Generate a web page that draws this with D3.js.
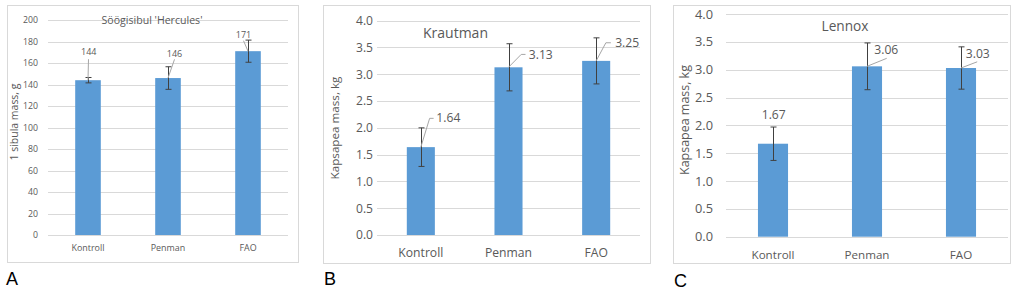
<!DOCTYPE html>
<html>
<head>
<meta charset="utf-8">
<script src="https://cdn.jsdelivr.net/npm/d3@7"></script>
<style>
  html, body { margin: 0; padding: 0; background: #fff; }
  svg { display: block; }
</style>
</head>
<body>
<svg id="chart" width="1024" height="291"></svg>
<script>
// ---------------- DATA ----------------
const categories = ["Kontroll", "Penman", "FAO"];

const herculesMass = [144, 146, 171];
const herculesErr  = [2.5, 10.5, 10.3];

const krautmanMass = [1.64, 3.13, 3.25];
const krautmanErr  = [0.36, 0.44, 0.43];

const lennoxMass = [1.67, 3.06, 3.03];
const lennoxErr  = [0.30, 0.42, 0.38];

const ticksA  = [0, 20, 40, 60, 80, 100, 120, 140, 160, 180, 200];
const ticksBC = [0, 0.5, 1.0, 1.5, 2.0, 2.5, 3.0, 3.5, 4.0];

const titles = ["Söögisibul 'Hercules'", "Krautman", "Lennox"];
const yTitles = ["1 sibula mass, g", "Kapsapea mass, kg", "Kapsapea mass, kg"];
const panelLetters = ["A", "B", "C"];

// ---------------- LAYOUT ----------------
const FONT = "'Open Sans', Lato, sans-serif";
const TXT = "#595959";
const GRID = "#d9d9d9";
const BAR = "#5b9bd5";

// widths (px) that the reference texts occupy; font sizes are fitted to them
const panels = [
  {
    values: herculesMass, errs: herculesErr, ticks: ticksA, yMax: 200,
    fmt: d3.format("d"), tickFmt: d3.format("d"),
    title: titles[0], yTitle: yTitles[0], letter: panelLetters[0],
    box: [7, 5, 298, 262], plot: [48, 20, 288, 235],
    tickX: 38, catY: 251, titleX: 152, titleY: 24, titleAnchor: "middle",
    yTitleX: 18, yTitleY: 122, letterX: 6, letterY: 285,
    fit: {tick: ["200", 15], cat: ["Kontroll", 33], title: 101, yTitle: 77, label: ["144", 15.5]},
    labels: [
      {dx: 0.8, dy: -28.5, anchor: "middle", line: [[0, 0], [0.5, -21]]},
      {dx: 6.5, dy: -24, anchor: "middle", line: [[0, 0], [6.5, -18.7]]},
      {dx: -4.5, dy: -16, anchor: "middle", line: [[0, 0], [-4.5, -10.5]]}
    ]
  },
  {
    values: krautmanMass, errs: krautmanErr, ticks: ticksBC, yMax: 4,
    fmt: d3.format(".2f"), tickFmt: d3.format(".1f"),
    title: titles[1], yTitle: yTitles[1], letter: panelLetters[1],
    box: [323, 5, 650, 263], plot: [377, 20.7, 640, 235],
    tickX: 373, catY: 257, titleX: 423, titleY: 38, titleAnchor: "start",
    yTitleX: 339, yTitleY: 128, letterX: 324, letterY: 285,
    fit: {tick: ["4.0", 17], cat: ["Kontroll", 45], title: 65, yTitle: 103, label: ["3.13", 24]},
    labels: [
      {dx: 15.5, dy: -29, anchor: "start", line: [[0, 0], [8.8, -28.8], [12.8, -28.8]]},
      {dx: 20.3, dy: -13, anchor: "start", line: [[0, 0], [12.7, -12.9], [17, -12.9]]},
      {dx: 19, dy: -18.3, anchor: "start", line: [[0, 0], [9.7, -18.1], [14.7, -18.1]]}
    ]
  },
  {
    values: lennoxMass, errs: lennoxErr, ticks: ticksBC, yMax: 4,
    fmt: d3.format(".2f"), tickFmt: d3.format(".1f"),
    title: titles[2], yTitle: yTitles[2], letter: panelLetters[2],
    box: [673, 5, 1010, 263], plot: [726, 14, 1008, 236.7],
    tickX: 713, catY: 259, titleX: 845, titleY: 31, titleAnchor: "middle",
    yTitleX: 689, yTitleY: 120, letterX: 674, letterY: 287,
    fit: {tick: ["4.0", 18], cat: ["Kontroll", 43], title: 47, yTitle: 110, label: ["3.06", 24]},
    labels: [
      {dx: 0.7, dy: -29.4, anchor: "middle", line: null},
      {dx: 7.3, dy: -16.3, anchor: "start", line: [[0, 0], [19.7, -8]]},
      {dx: 4.8, dy: -14.6, anchor: "start", line: [[0, 0], [16.2, -6.2]]}
    ]
  }
];

const svg = d3.select("#chart");

// measure a string at 10px and return the size giving the wanted width
const probe = svg.append("text").attr("font-family", FONT).attr("font-size", 10).attr("x", -999).attr("y", -999);
function fitSize(str, width) {
  probe.text(str);
  const w = probe.node().getComputedTextLength();
  return w > 0 ? 10 * width / w : 10;
}

panels.forEach(p => {
  const g = svg.append("g");
  const [bx0, by0, bx1, by1] = p.box;
  const [px0, py0, px1, py1] = p.plot;

  const tickSize = fitSize(p.fit.tick[0], p.fit.tick[1]);
  const catSize = fitSize(p.fit.cat[0], p.fit.cat[1]);
  const titleSize = fitSize(p.title, p.fit.title);
  const yTitleSize = fitSize(p.yTitle, p.fit.yTitle);
  const labelSize = fitSize(p.fit.label[0], p.fit.label[1]);

  g.append("rect")
    .attr("x", bx0 + 0.5).attr("y", by0 + 0.5)
    .attr("width", bx1 - bx0).attr("height", by1 - by0)
    .attr("fill", "#fff").attr("stroke", GRID).attr("stroke-width", 1);

  const x = d3.scaleBand().domain(categories).range([px0, px1])
    .paddingInner(0.68).paddingOuter(0.34);
  const y = d3.scaleLinear().domain([0, p.yMax]).range([py1, py0]);

  // gridlines
  g.append("g").selectAll("line").data(p.ticks).join("line")
    .attr("x1", px0).attr("x2", px1)
    .attr("y1", d => Math.round(y(d)) + 0.5).attr("y2", d => Math.round(y(d)) + 0.5)
    .attr("stroke", GRID).attr("stroke-width", 1);

  // y tick labels via axis
  const yAxis = d3.axisLeft(y).tickValues(p.ticks).tickFormat(p.tickFmt).tickSize(0).tickPadding(0);
  const ya = g.append("g").attr("transform", `translate(${p.tickX},0)`).call(yAxis);
  ya.select(".domain").remove();
  ya.selectAll("text").attr("fill", TXT).attr("font-family", FONT).attr("font-size", tickSize);

  // x category labels via axis
  const xAxis = d3.axisBottom(x).tickSize(0).tickPadding(0);
  const xa = g.append("g").attr("transform", `translate(0,${p.catY - catSize * 0.75})`).call(xAxis);
  xa.select(".domain").remove();
  xa.selectAll("text").attr("fill", TXT).attr("font-family", FONT).attr("font-size", catSize).attr("dy", "0.71em");

  const data = categories.map((c, i) => ({c, v: p.values[i], e: p.errs[i], lab: p.labels[i]}));

  // bars
  g.append("g").selectAll("rect").data(data).join("rect")
    .attr("x", d => x(d.c)).attr("width", x.bandwidth())
    .attr("y", d => y(d.v)).attr("height", d => y(0) - y(d.v))
    .attr("fill", BAR);

  // error bars
  const eb = g.append("g").attr("stroke", "#404040").attr("stroke-width", 1);
  data.forEach(d => {
    const cx = Math.round(x(d.c) + x.bandwidth() / 2) + 0.5;
    const yt = y(d.v + d.e), yb = y(d.v - d.e);
    eb.append("line").attr("x1", cx).attr("x2", cx).attr("y1", yt).attr("y2", yb);
    eb.append("line").attr("x1", cx - 3).attr("x2", cx + 3).attr("y1", yt).attr("y2", yt);
    eb.append("line").attr("x1", cx - 3).attr("x2", cx + 3).attr("y1", yb).attr("y2", yb);
  });

  // data labels with leader lines
  data.forEach(d => {
    const cx = x(d.c) + x.bandwidth() / 2;
    const cy = y(d.v);
    if (d.lab.line) {
      g.append("path")
        .attr("d", d3.line()(d.lab.line.map(q => [cx + q[0], cy + q[1]])))
        .attr("fill", "none").attr("stroke", "#a6a6a6").attr("stroke-width", 1);
    }
    g.append("text")
      .attr("x", cx + d.lab.dx).attr("y", cy + d.lab.dy)
      .attr("dy", "0.35em")
      .attr("text-anchor", d.lab.anchor)
      .attr("fill", TXT).attr("font-family", FONT).attr("font-size", labelSize)
      .text(p.fmt(d.v));
  });

  // title
  g.append("text").attr("x", p.titleX).attr("y", p.titleY)
    .attr("text-anchor", p.titleAnchor)
    .attr("fill", TXT).attr("font-family", FONT).attr("font-size", titleSize)
    .text(p.title);

  // y title
  g.append("text")
    .attr("transform", `translate(${p.yTitleX},${p.yTitleY}) rotate(-90)`)
    .attr("text-anchor", "middle")
    .attr("fill", TXT).attr("font-family", FONT).attr("font-size", yTitleSize)
    .text(p.yTitle);

  // panel letter
  svg.append("text").attr("x", p.letterX).attr("y", p.letterY)
    .attr("fill", "#000").attr("font-family", "'Liberation Sans', Arial, sans-serif").attr("font-size", 18)
    .text(p.letter);
});
probe.remove();
</script>
</body>
</html>
